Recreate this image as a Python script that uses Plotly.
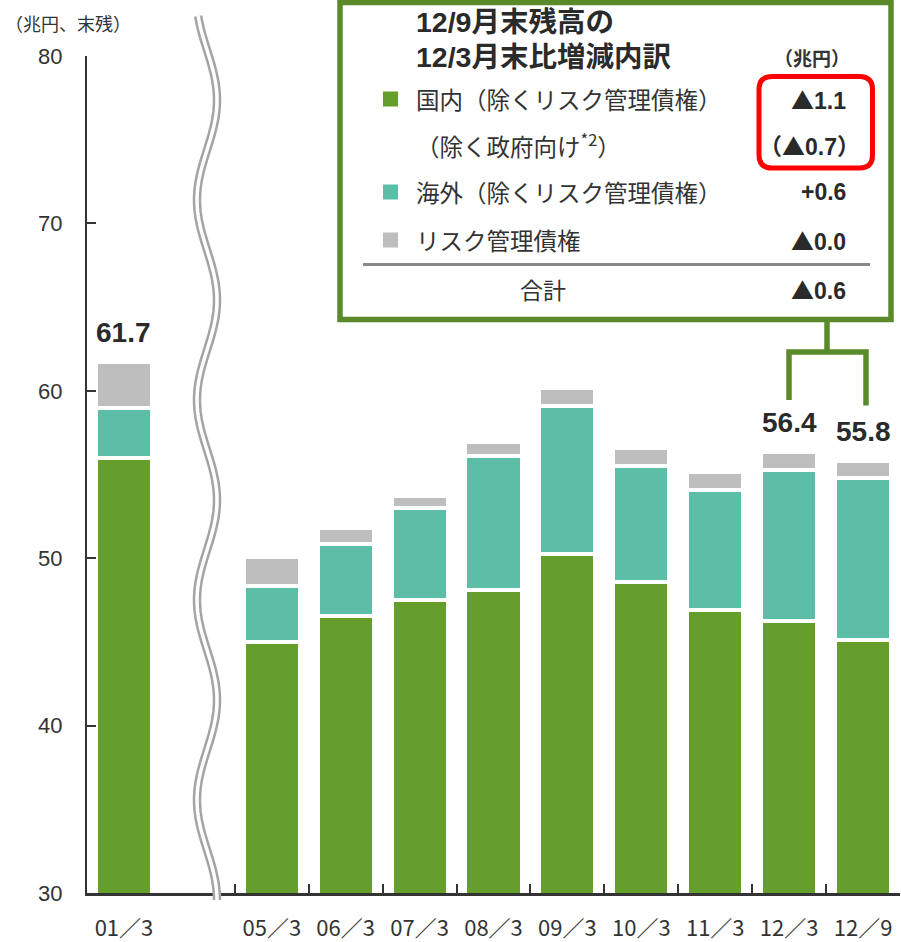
import math
import plotly.graph_objects as go

# ---- data (兆円, 末残) ----
periods = ["01/3", "05/3", "06/3", "07/3", "08/3", "09/3", "10/3", "11/3", "12/3", "12/9"]
tick_text = ["01／3", "05／3", "06／3", "07／3", "08／3", "09／3", "10／3", "11／3", "12／3", "12／9"]
domestic = [56.00, 45.00, 46.57, 47.52, 48.10, 50.25, 48.58, 46.90, 46.22, 45.12]
overseas = [2.97, 3.35, 4.30, 5.50, 8.00, 8.84, 6.93, 7.17, 9.07, 9.66]
risk_mgmt = [2.73, 1.70, 0.95, 0.71, 0.84, 1.10, 1.09, 1.10, 1.08, 1.04]
labelled = ["01/3", "12/3", "12/9"]

breakdown_rows = ["国内（除くリスク管理債権）", "（除く政府向け<sup>*2</sup>）",
                  "海外（除くリスク管理債権）", "リスク管理債権", "合計"]
breakdown_vals = ["▲1.1", "（▲0.7）", "+0.6", "▲0.0", "▲0.6"]

GAP = " "  # empty slot where the axis is broken
categories = [periods[0], GAP] + periods[1:]

C_DOM = "#669E2C"
C_OVS = "#5CBEA6"
C_RSK = "#BEBEBE"
C_FRAME = "#5A8A2A"
TXT = "#333333"
DARK = "#2a2a2a"
JP = "Noto Sans CJK JP"
LAT = "Liberation Sans, Noto Sans CJK JP"

W, H = 901, 942
L, R, T, B = 87, 1, 56, 49
PW, PH = W - L - R, H - T - B


def px(x):
    return (x - L) / PW


def py(y):
    return (H - B - y) / PH


fig = go.Figure()
for name, vals, col in [("国内", domestic, C_DOM), ("海外", overseas, C_OVS), ("リスク管理債権", risk_mgmt, C_RSK)]:
    fig.add_trace(go.Bar(
        x=periods, y=vals, name=name,
        marker=dict(color=col, line=dict(color="white", width=4)),
        hoverinfo="skip",
    ))

# totals above selected bars
for p in labelled:
    i = periods.index(p)
    tot = domestic[i] + overseas[i] + risk_mgmt[i]
    fig.add_annotation(x=p, y=tot, xref="x", yref="y", text=f"<b>{tot:.1f}</b>",
                       showarrow=False, yanchor="bottom", yshift=12,
                       font=dict(family=LAT, size=28, color=DARK))

shapes = []


# broken-axis wave (double line)
def wave_path():
    pts = []
    y = 16.0
    while y <= 902:
        x = 207 - 10 * math.cos(2 * math.pi * y / 200.0)
        pts.append((px(x), py(y)))
        y += 4
    return "M " + " L ".join(f"{a:.5f},{b:.5f}" for a, b in pts)


wp = wave_path()
shapes.append(dict(type="path", path=wp, xref="paper", yref="paper",
                   line=dict(color="#A4A4A4", width=8.5), layer="above"))
shapes.append(dict(type="path", path=wp, xref="paper", yref="paper",
                   line=dict(color="white", width=3.5), layer="above"))

# breakdown panel frame
shapes.append(dict(type="rect", xref="paper", yref="paper",
                   x0=px(340), x1=px(891), y0=py(319.5), y1=py(2.5),
                   line=dict(color=C_FRAME, width=5.5), fillcolor="white", layer="above"))

# bracket linking the panel to the 12/3 and 12/9 bars
bracket = (f"M {px(827)},{py(320)} L {px(827)},{py(352)} "
           f"M {px(789)},{py(400)} L {px(789)},{py(352)} L {px(866)},{py(352)} L {px(866)},{py(405.6)}")
shapes.append(dict(type="path", path=bracket, xref="paper", yref="paper",
                   line=dict(color=C_FRAME, width=5.5), layer="above"))

# separator above the total row
shapes.append(dict(type="line", xref="paper", yref="paper",
                   x0=px(363), x1=px(870), y0=py(264.5), y1=py(264.5),
                   line=dict(color="#888888", width=3), layer="above"))


# red rounded highlight around the domestic figures
def rounded_rect(x0, y0, x1, y1, r):
    return (f"M {px(x0 + r)},{py(y0)} L {px(x1 - r)},{py(y0)} Q {px(x1)},{py(y0)} {px(x1)},{py(y0 + r)} "
            f"L {px(x1)},{py(y1 - r)} Q {px(x1)},{py(y1)} {px(x1 - r)},{py(y1)} "
            f"L {px(x0 + r)},{py(y1)} Q {px(x0)},{py(y1)} {px(x0)},{py(y1 - r)} "
            f"L {px(x0)},{py(y0 + r)} Q {px(x0)},{py(y0)} {px(x0 + r)},{py(y0)} Z")


shapes.append(dict(type="path", path=rounded_rect(759, 76.5, 872.5, 168, 13), xref="paper", yref="paper",
                   line=dict(color="#FF0000", width=5), layer="above"))

# legend swatches
for yc, col in [(99, C_DOM), (192, C_OVS), (240, C_RSK)]:
    shapes.append(dict(type="rect", xref="paper", yref="paper",
                       x0=px(383), x1=px(398), y0=py(yc + 7.5), y1=py(yc - 7.5),
                       line=dict(width=0), fillcolor=col, layer="above"))


def note(text, x, y, size, anchor="left", bold=False, family=JP, color=TXT):
    fig.add_annotation(xref="paper", yref="paper", x=px(x), y=py(y),
                       text=f"<b>{text}</b>" if bold else text, showarrow=False,
                       xanchor=anchor, yanchor="middle",
                       font=dict(family=family, size=size, color=color))


def value_markup(v):
    # the triangle glyph is taken from the CJK face so it matches the digit height
    return v.replace("▲", f"<span style=\"font-family:'{JP}'\">▲</span>")


note("（兆円、末残）", 3, 23, 18)
note("12/9月末残高の", 414, 22, 28.5, bold=True, family=LAT, color=DARK)
note("12/3月末比増減内訳", 414, 57, 28.5, bold=True, family=LAT, color=DARK)
note("（兆円）", 812, 58, 19, anchor="center", bold=True)

row_y = [99, 145, 192, 240, 289]
for lab, val, yy in zip(breakdown_rows, breakdown_vals, row_y):
    if lab == "合計":
        note(lab, 543, yy, 23, anchor="center")
    else:
        note(lab, 414, yy, 23.5)
    right = 862 if val.startswith("（") else 848
    note(value_markup(val), right, yy, 23, anchor="right", bold=True, family=LAT, color=DARK)

fig.update_layout(
    barmode="stack",
    bargap=0.24,
    width=W, height=H,
    margin=dict(l=L, r=R, t=T, b=B, pad=0),
    paper_bgcolor="white", plot_bgcolor="white",
    showlegend=False,
    shapes=shapes,
    xaxis=dict(
        type="category", categoryorder="array", categoryarray=categories,
        tickmode="array", tickvals=periods, ticktext=tick_text,
        tickson="boundaries", ticks="inside", ticklen=9, tickwidth=2, tickcolor=TXT,
        showline=True, linecolor=TXT, linewidth=2.5, showgrid=False,
        tickfont=dict(family=JP, size=22, color=TXT), ticklabelstandoff=14,
        range=[-0.5, len(categories) - 0.5],
    ),
    yaxis=dict(
        range=[30, 80], dtick=10, tick0=30,
        ticks="inside", ticklen=9, tickwidth=2, tickcolor=TXT,
        showline=True, linecolor=TXT, linewidth=2, showgrid=False, zeroline=False,
        tickfont=dict(family="Liberation Sans", size=22, color=TXT), ticklabelstandoff=18,
    ),
)

fig.write_html("out.html")
